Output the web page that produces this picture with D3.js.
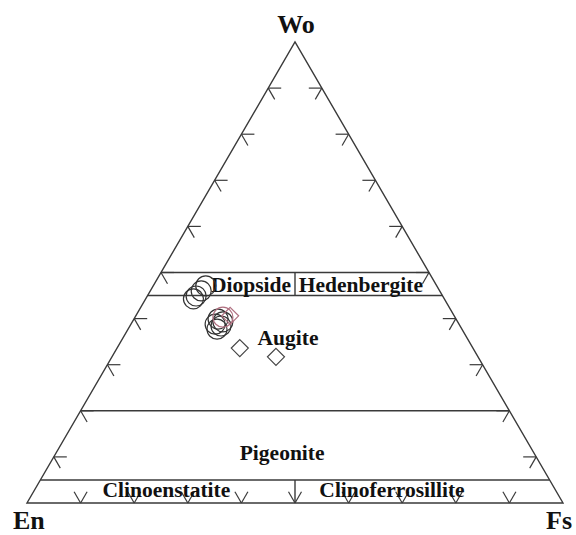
<!DOCTYPE html>
<html><head><meta charset="utf-8">
<script src="https://cdn.jsdelivr.net/npm/d3@7"></script>
<style>html,body{margin:0;padding:0;background:#fff}svg{display:block}</style>
</head><body>
<script>
// Ternary data: [Wo, En, Fs] fractions
const circlesDark = [
  [0.471, 0.431, 0.098],
  [0.460, 0.445, 0.095],
  [0.449, 0.460, 0.091],
  [0.443, 0.468, 0.089],
  [0.399, 0.444, 0.157],
  [0.388, 0.455, 0.157],
  [0.384, 0.446, 0.170],
  [0.377, 0.457, 0.166],
  [0.393, 0.438, 0.169]
];
const circlesRed = [
  [0.403, 0.433, 0.164]
];
const diamondsDark = [
  [0.336, 0.435, 0.229],
  [0.317, 0.377, 0.306]
];
const diamondsRed = [
  [0.406, 0.418, 0.176]
];
const woLines = [0.5, 0.45, 0.2, 0.05];
const tickFractions = [0.1,0.2,0.3,0.4,0.5,0.6,0.7,0.8,0.9];
const cornerLabels = ["Wo","En","Fs"];
const fieldLabels = [
  {text:"Diopside", wo:0.458, s:0.418},
  {text:"Hedenbergite", wo:0.458, s:0.623},
  {text:"Augite", wo:0.343, s:0.487},
  {text:"Pigeonite", wo:0.093, s:0.476},
  {text:"Clinoenstatite", wo:0.013, s:0.260},
  {text:"Clinoferrosillite", wo:0.013, s:0.681}
];

const W = 576, H = 535;
const svg = d3.select("body").append("svg").attr("width", W).attr("height", H);
const xs = d3.scaleLinear().domain([0,1]).range([27,563]);
const ys = d3.scaleLinear().domain([0,1]).range([503,42]);
const px = (wo, fs) => [xs(fs + wo/2), ys(wo)];
const col = "#3a3a3a";

// Triangle
const tri = [px(0,0), px(0,1), px(1,0)];
svg.append("path").attr("d", d3.line()(tri) + "Z")
  .attr("fill","none").attr("stroke",col).attr("stroke-width",1.4);

// Horizontal Wo lines
woLines.forEach(w => {
  const a = px(w, 0), b = px(w, 1 - w);
  svg.append("line").attr("x1",a[0]).attr("y1",a[1]).attr("x2",b[0]).attr("y2",b[1])
    .attr("stroke",col).attr("stroke-width",1.4);
});
// Dividers
[[0.45,0.5],[0,0.05]].forEach(([w0,w1]) => {
  const a = px(w0, 0.5 - w0/2), b = px(w1, 0.5 - w1/2);
  svg.append("line").attr("x1",a[0]).attr("y1",a[1]).attr("x2",b[0]).attr("y2",b[1])
    .attr("stroke",col).attr("stroke-width",1.4);
});

// Ticks
const L = 13, c60 = Math.cos(Math.PI/3), s60 = Math.sin(Math.PI/3);
const tickG = svg.append("g").attr("stroke",col).attr("stroke-width",1.2);
function arm(p, dx, dy) {
  tickG.append("line").attr("x1",p[0]).attr("y1",p[1])
    .attr("x2",p[0]+dx*L).attr("y2",p[1]+dy*L);
}
tickFractions.forEach(t => {
  const pl = px(t, 0);          // left edge
  arm(pl, 1, 0); arm(pl, c60, s60);
  const pr = px(t, 1 - t);      // right edge
  arm(pr, -1, 0); arm(pr, -c60, s60);
  const pb = px(0, t);          // bottom edge
  arm(pb, -c60, -s60); arm(pb, c60, -s60);
});

// Corner labels
const cl = svg.append("g").attr("font-family","'Liberation Serif','Times New Roman',serif")
  .attr("font-weight","bold").attr("font-size",26).attr("fill","#111");
cl.append("text").attr("x",296).attr("y",33).attr("text-anchor","middle").text(cornerLabels[0]);
cl.append("text").attr("x",13).attr("y",529).text(cornerLabels[1]);
cl.append("text").attr("x",572).attr("y",529).attr("text-anchor","end").text(cornerLabels[2]);

// Field labels
svg.append("g").attr("font-family","'Liberation Serif','Times New Roman',serif")
  .attr("font-weight","bold").attr("font-size",21.5).attr("fill","#111")
  .selectAll("text").data(fieldLabels).join("text")
  .attr("x", d => xs(d.s)).attr("y", d => ys(d.wo))
  .attr("text-anchor","middle").text(d => d.text);

// Data points
const R = 10, D = 8.5;
function circles(data, color) {
  svg.append("g").selectAll("circle").data(data).join("circle")
    .attr("cx", d => px(d[0], d[2])[0]).attr("cy", d => px(d[0], d[2])[1])
    .attr("r", R).attr("fill","none").attr("stroke",color).attr("stroke-width",1.2);
}
function diamonds(data, color) {
  svg.append("g").selectAll("path").data(data).join("path")
    .attr("d", d => { const [x,y] = px(d[0], d[2]);
      return `M${x},${y-D}L${x+D},${y}L${x},${y+D}L${x-D},${y}Z`; })
    .attr("fill","none").attr("stroke",color).attr("stroke-width",1.2);
}
circles(circlesDark, "#333");
circles(circlesRed, "#b07080");
diamonds(diamondsDark, "#444");
diamonds(diamondsRed, "#b07080");
</script>
</body></html>
